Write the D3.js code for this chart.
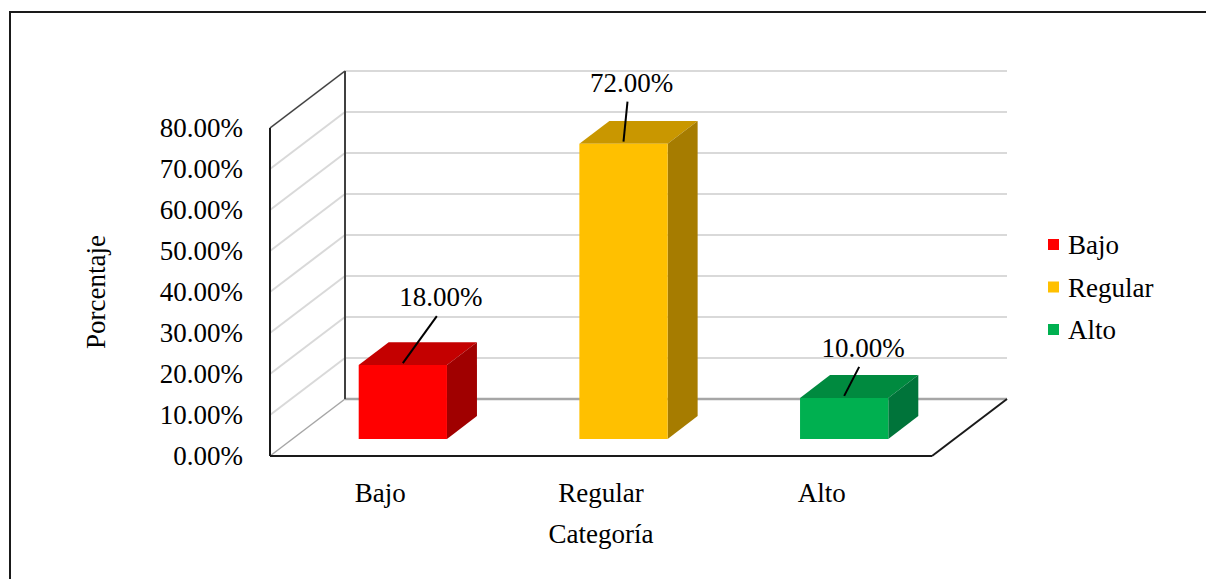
<!DOCTYPE html>
<html>
<head>
<meta charset="utf-8">
<script src="https://cdn.jsdelivr.net/npm/d3@7"></script>
<style>
	body{ margin:0; background:#fff; }
	svg text{ font-family:"Liberation Serif","Times New Roman",serif; fill:#000; }
</style>
</head>
<body>
<div id="mainCanvas"></div>
<script>
'use strict'
var categories = ["Bajo", "Regular", "Alto"];
var values = [18, 72, 10];
var yTicks = [0, 10, 20, 30, 40, 50, 60, 70, 80];
var frontColors = ["#ff0000", "#ffc000", "#00b050"];
var topColors = ["#c40000", "#c99700", "#008a3f"];
var sideColors = ["#a00000", "#a67c00", "#00743a"];
// where Excel put the data labels (offset from the top of each bar)
var labelDx = [38, 8, 19],
	labelDy = [-59, -52, -41];

var W = 1206, H = 579;
var depthX = 75, depthY = -57;   // 3d offset of the back wall
var z0 = 0.3, z1 = 0.7;          // bar depth inside the floor
var fontPx = 27;

var svg = d3.select("#mainCanvas").append("svg")
			.attr("width", W)
			.attr("height", H);

// outer frame
svg.append("rect")
	.attr("x", 10).attr("y", 12)
	.attr("width", 1400).attr("height", 800)
	.attr("fill", "none")
	.attr("stroke", "#1a1a1a")
	.attr("stroke-width", 2);

var x = d3.scaleBand().domain(categories).range([270, 932]).paddingInner(0.6).paddingOuter(0.3),
	y = d3.scaleLinear().domain([0, 80]).range([456, 128]);
var bw = x.bandwidth();
var x0 = 270, x1 = 932;

function P(px, py, z){ return [px + z*depthX, py + z*depthY]; }
function poly(pts){ return "M" + pts.map(function(p){ return p.join(","); }).join("L") + "Z"; }
function seg(a, b, col, w){
	svg.append("line")
		.attr("x1", a[0]).attr("y1", a[1])
		.attr("x2", b[0]).attr("y2", b[1])
		.attr("stroke", col).attr("stroke-width", w);
}

// gridlines on back wall + side wall
yTicks.forEach(function(t){
	if(t === 0) return;
	var yy = y(t);
	seg(P(x0, yy, 1), P(x1, yy, 1), "#d9d9d9", 2);
	seg(P(x0, yy, 0), P(x0, yy, 1), "#d9d9d9", 2);
});
// floor back edge & side bottom
seg(P(x0, y(0), 1), P(x1, y(0), 1), "#a6a6a6", 2.5);
seg(P(x0, y(0), 0), P(x0, y(0), 1), "#a6a6a6", 1.5);
// wall edges
seg(P(x0, y(0), 1), P(x0, y(80), 1), "#404040", 2);
seg(P(x0, y(80), 0), P(x0, y(80), 1), "#404040", 1.5);
seg(P(x0, y(0), 0), P(x0, y(80), 0), "#1a1a1a", 2);
// floor front + right edge
seg(P(x0, y(0), 0), P(x1, y(0), 0), "#1a1a1a", 2);
seg(P(x1, y(0), 0), P(x1, y(0), 1), "#1a1a1a", 2);

// 3d bars
var bars = svg.selectAll(".bar3d")
			.data(values)
			.enter().append("g")
			.attr("class", "bar3d");

bars.each(function(v, i){
	var g = d3.select(this);
	var l = x(categories[i]), r = l + bw, b = y(0), t = y(v);
	g.append("path")   // top
		.attr("d", poly([P(l, t, z0), P(r, t, z0), P(r, t, z1), P(l, t, z1)]))
		.attr("fill", topColors[i]);
	g.append("path")   // side
		.attr("d", poly([P(r, b, z0), P(r, t, z0), P(r, t, z1), P(r, b, z1)]))
		.attr("fill", sideColors[i]);
	g.append("path")   // front
		.attr("d", poly([P(l, b, z0), P(r, b, z0), P(r, t, z0), P(l, t, z0)]))
		.attr("fill", frontColors[i]);
});

// data labels with leader lines
values.forEach(function(v, i){
	var a = P(x(categories[i]) + bw/2, y(v), z0);
	var lx = a[0] + labelDx[i], ly = a[1] + labelDy[i];
	seg([a[0], a[1] - 2], [lx - 4, ly + 10], "#000", 2);
	svg.append("text")
		.attr("x", lx).attr("y", ly)
		.attr("text-anchor", "middle")
		.style("font-size", fontPx + "px")
		.text(d3.format(".2f")(v) + "%");
});

// y tick labels
svg.selectAll(".ytick")
	.data(yTicks)
	.enter().append("text")
	.attr("class", "ytick")
	.attr("x", 243)
	.attr("y", function(d){ return y(d); })
	.attr("dy", "0.35em")
	.attr("text-anchor", "end")
	.style("font-size", fontPx + "px")
	.text(function(d){ return d3.format(".2f")(d) + "%"; });

// category labels
svg.selectAll(".xcat")
	.data(categories)
	.enter().append("text")
	.attr("class", "xcat")
	.attr("x", function(d){ return x(d) + bw/2; })
	.attr("y", 502)
	.attr("text-anchor", "middle")
	.style("font-size", fontPx + "px")
	.text(function(d){ return d; });

// axis titles
svg.append("text")
	.attr("x", (x0 + x1)/2).attr("y", 543)
	.attr("text-anchor", "middle")
	.style("font-size", fontPx + "px")
	.text("Categoría");
svg.append("text")
	.attr("transform", "translate(105,292) rotate(-90)")
	.attr("text-anchor", "middle")
	.style("font-size", fontPx + "px")
	.text("Porcentaje");

// legend
var leg = svg.selectAll(".legend")
			.data(categories)
			.enter().append("g")
			.attr("class", "legend")
			.attr("transform", function(d, i){ return "translate(1048," + (239 + i*42.5) + ")"; });
leg.append("rect")
	.attr("width", 11).attr("height", 11)
	.attr("fill", function(d, i){ return frontColors[i]; });
leg.append("text")
	.attr("x", 20).attr("y", 15)
	.style("font-size", fontPx + "px")
	.text(function(d){ return d; });
</script>
</body>
</html>
